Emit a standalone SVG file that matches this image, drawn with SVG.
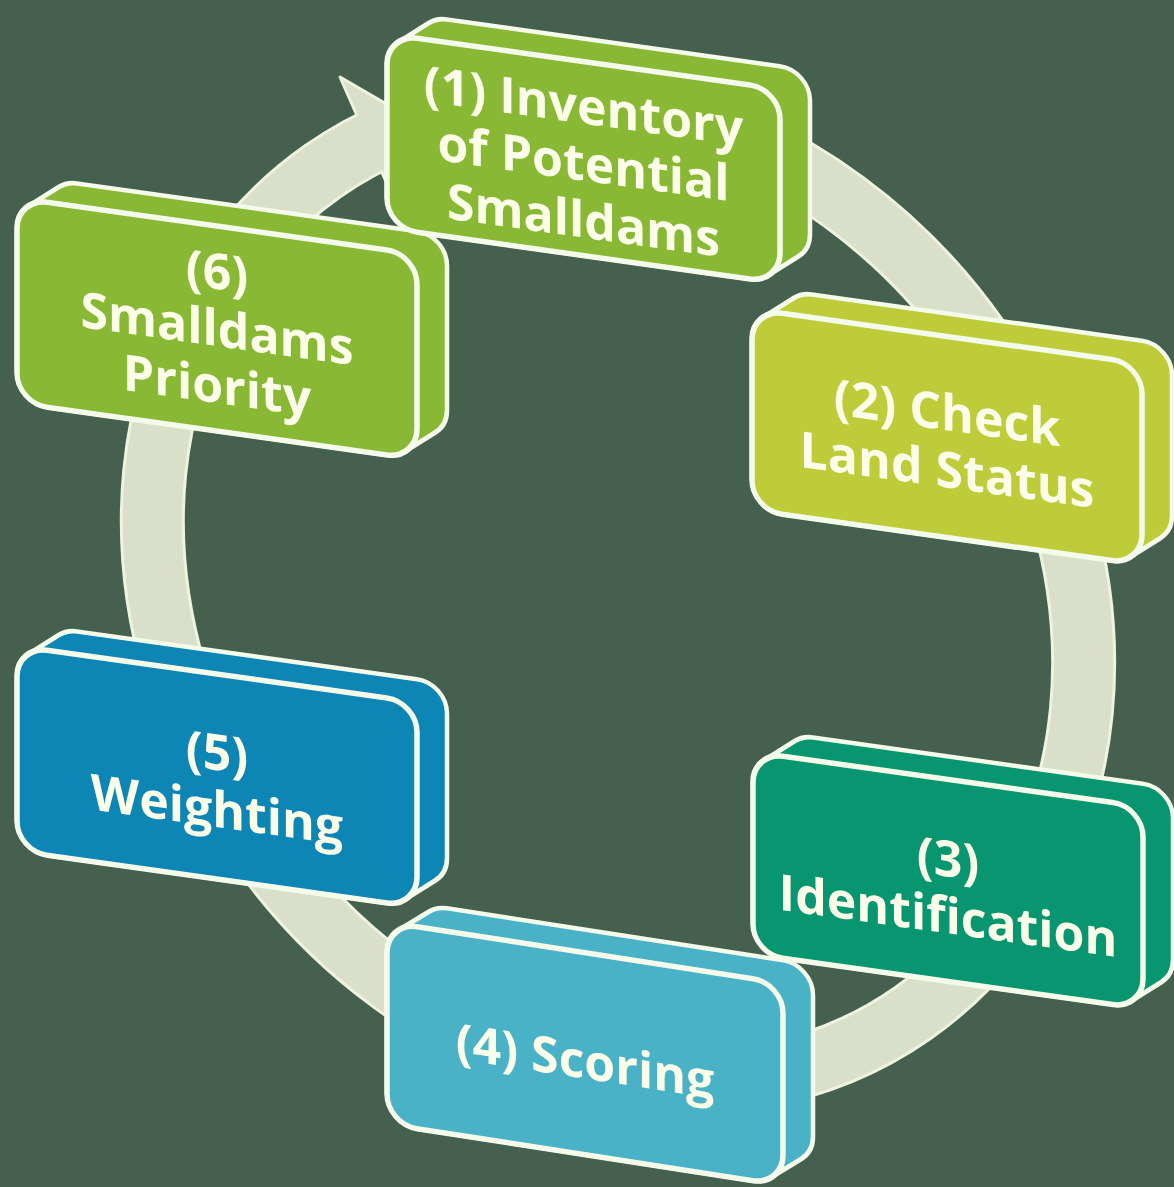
<svg xmlns="http://www.w3.org/2000/svg" width="1174" height="1187" viewBox="0 0 1174 1187">
  <style>
    .bg { fill: #46604f; }
    .ring-edge { fill: none; stroke: #eef3e0; stroke-width: 65; }
    .ring-band { fill: none; stroke: #d9dfc8; stroke-width: 59; }
    .arrow { fill: #d9dfc8; stroke: #eef3e0; stroke-width: 3; stroke-linejoin: round; }
    .side { stroke: #f5fbeb; stroke-width: 4.5; stroke-linejoin: round; }
    .face { stroke: #f5fbeb; stroke-width: 5.5; }
    .lbl { font-family: "Open Sans", "DejaVu Sans", sans-serif; font-weight: 700; font-size: 50px; fill: #fbfde9; text-anchor: middle; }
    .c-green { fill: #89b834; }
    .c-lime { fill: #bdcc38; }
    .c-teal { fill: #079670; }
    .c-sky { fill: #4ab2c6; }
    .c-blue { fill: #0d85b5; }
  </style>

  <rect class="bg" x="0" y="0" width="1174" height="1187"/>

  <!-- cycle ring with its arrowhead -->
  <g id="connectors">
    <ellipse class="ring-edge" cx="0" cy="0" rx="514" ry="440" transform="translate(618,592) rotate(55)"/>
    <polygon class="arrow" points="340,77 445,138 394,200"/>
    <ellipse class="ring-band" cx="0" cy="0" rx="514" ry="440" transform="translate(618,592) rotate(55)"/>
  </g>

  <!-- (4) Scoring -->
  <g id="node4" transform="translate(387,922) skewY(8.8)">
    <path class="side c-sky" d="M11.8 6.2 L41.8 -16.8 A30 30 0 0 1 60 -23 L396 -23 A30 30 0 0 1 426 7 L426 149 A30 30 0 0 1 414.2 172.8 L384.2 195.8 A30 30 0 0 1 366 202 L30 202 A30 30 0 0 1 0 172 L0 30 A30 30 0 0 1 11.8 6.2Z"/>
    <rect class="face c-sky" x="0" y="0" width="396" height="202" rx="30"/>
    <text class="lbl" x="198" y="126">(4) Scoring</text>
  </g>

  <!-- (3) Identification -->
  <g id="node3" transform="translate(753,752) skewY(8)">
    <path class="side c-teal" d="M11.8 6.2 L41.8 -16.8 A30 30 0 0 1 60 -23 L390 -23 A30 30 0 0 1 420 7 L420 149 A30 30 0 0 1 408.2 172.8 L378.2 195.8 A30 30 0 0 1 360 202 L30 202 A30 30 0 0 1 0 172 L0 30 A30 30 0 0 1 11.8 6.2Z"/>
    <rect class="face c-teal" x="0" y="0" width="390" height="202" rx="30"/>
    <text class="lbl" x="195" y="97">(3)</text>
    <text class="lbl" x="195" y="154">Identification</text>
  </g>

  <!-- (5) Weighting -->
  <g id="node5" transform="translate(17,646) skewY(8)">
    <path class="side c-blue" d="M11.8 6.2 L41.8 -16.8 A30 30 0 0 1 60 -23 L400 -23 A30 30 0 0 1 430 7 L430 152 A30 30 0 0 1 418.2 175.8 L388.2 198.8 A30 30 0 0 1 370 205 L30 205 A30 30 0 0 1 0 175 L0 30 A30 30 0 0 1 11.8 6.2Z"/>
    <rect class="face c-blue" x="0" y="0" width="400" height="205" rx="30"/>
    <text class="lbl" x="200" y="96">(5)</text>
    <text class="lbl" x="200" y="153">Weighting</text>
  </g>

  <!-- (6) Smalldams Priority -->
  <g id="node6" transform="translate(17,198) skewY(8)">
    <path class="side c-green" d="M11.8 6.2 L41.8 -16.8 A30 30 0 0 1 60 -23 L400 -23 A30 30 0 0 1 430 7 L430 152 A30 30 0 0 1 418.2 175.8 L388.2 198.8 A30 30 0 0 1 370 205 L30 205 A30 30 0 0 1 0 175 L0 30 A30 30 0 0 1 11.8 6.2Z"/>
    <rect class="face c-green" x="0" y="0" width="400" height="205" rx="30"/>
    <text class="lbl" x="200" y="63">(6)</text>
    <text class="lbl" x="200" y="120">Smalldams</text>
    <text class="lbl" x="200" y="177">Priority</text>
  </g>

  <!-- (2) Check Land Status -->
  <g id="node2" transform="translate(752,309) skewY(8)">
    <path class="side c-lime" d="M11.8 6.2 L41.8 -16.8 A30 30 0 0 1 60 -23 L390 -23 A30 30 0 0 1 420 7 L420 148 A30 30 0 0 1 408.2 171.8 L378.2 194.8 A30 30 0 0 1 360 201 L30 201 A30 30 0 0 1 0 171 L0 30 A30 30 0 0 1 11.8 6.2Z"/>
    <rect class="face c-lime" x="0" y="0" width="390" height="201" rx="30"/>
    <text class="lbl" x="195" y="94">(2) Check</text>
    <text class="lbl" x="195" y="151">Land Status</text>
  </g>

  <!-- (1) Inventory of Potential Smalldams -->
  <g id="node1" transform="translate(387,34) skewY(8)">
    <path class="side c-green" d="M11.8 6.2 L41.8 -16.8 A30 30 0 0 1 60 -23 L393 -23 A30 30 0 0 1 423 7 L423 141 A30 30 0 0 1 411.2 164.8 L381.2 187.8 A30 30 0 0 1 363 194 L30 194 A30 30 0 0 1 0 164 L0 30 A30 30 0 0 1 11.8 6.2Z"/>
    <rect class="face c-green" x="0" y="0" width="393" height="194" rx="30"/>
    <text class="lbl" x="196.5" y="62">(1) Inventory</text>
    <text class="lbl" x="196.5" y="119">of Potential</text>
    <text class="lbl" x="196.5" y="176">Smalldams</text>
  </g>
</svg>
